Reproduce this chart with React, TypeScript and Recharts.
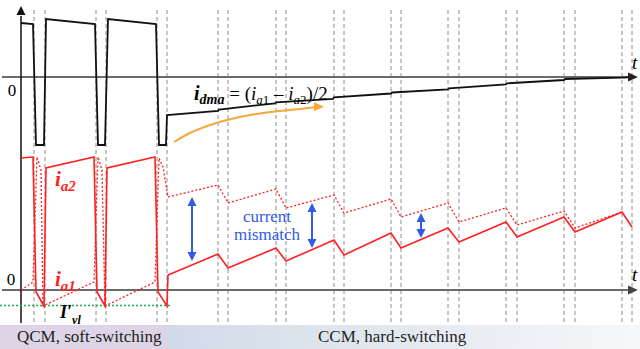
import { ComposedChart, Line, ReferenceDot, ReferenceLine, XAxis, YAxis } from "recharts";

// time base (arbitrary units), t = 0 at the vertical axis
const tIdma = [0, 1.2, 1.5, 2.3, 2.5, 7.4, 7.7, 8.4, 8.7, 13.5, 13.8, 14.5, 14.6, 19.7, 19.8, 25.4, 25.5, 31.2, 31.3, 37.0, 37.1, 42.7, 42.8, 48.5, 48.6, 54.3, 54.4, 60.1, 61.4];
const vIdma = [5.4, 5.3, -6.8, -6.8, 5.8, 5.3, -6.8, -6.8, 5.8, 5.3, -6.8, -6.8, -3.8, -3.4, -3.25, -2.63, -2.53, -2.2, -2.03, -1.65, -1.55, -1.23, -1.13, -0.73, -0.63, -0.3, -0.2, -0.07, 0];

const tIa2 = [0, 1.2, 1.5, 2.3, 2.5, 7.3, 7.6, 8.4, 8.6, 13.4, 13.7, 14.6, 14.7, 19.7, 20.7, 25.5, 26.5, 31.3, 32.3, 37.0, 38.0, 42.7, 43.8, 48.5, 49.6, 54.3, 55.4, 60.1, 61.1];
const vIa2 = [13.2, 13.3, -0.2, -1.6, 12.2, 13.3, -0.2, -1.6, 12.2, 13.3, -0.2, -1.6, 1.5, 3.6, 2.2, 4.2, 2.9, 5.0, 3.5, 5.7, 4.2, 6.2, 4.8, 6.8, 5.3, 7.3, 5.8, 7.8, 6.3];

const tIa1 = [0, 1.2, 1.6, 2.0, 2.2, 7.3, 7.7, 8.1, 8.4, 13.4, 13.8, 14.2, 14.7, 19.7, 20.7, 25.5, 26.5, 31.3, 32.3, 37.0, 38.0, 42.7, 43.8, 48.5, 49.6, 54.3, 55.4, 60.1];
const vIa1 = [0, 0.8, 13.3, 12.0, -1.6, 0.8, 13.3, 12.0, -1.6, 0.8, 13.2, 12.3, 9.3, 10.5, 8.7, 10.1, 8.2, 9.5, 7.7, 9.1, 7.3, 8.7, 6.8, 8.2, 6.5, 7.9, 6.2, 7.8];

// switching instants (pairs of dashed markers)
const switchTimes = [1.3, 2.4, 7.5, 8.5, 13.6, 14.6, 19.7, 20.7, 25.5, 26.5, 31.3, 32.3, 37.0, 38.0, 42.7, 43.8, 48.5, 49.6, 54.3, 55.4, 60.1, 61.1];

const tTrend = [15.3, 16.9, 18.9, 21.9, 24.9, 27.9, 29.6];
const vTrend = [-6.5, -5.6, -4.8, -4.0, -3.5, -3.2, -3.0];

// current mismatch markers: [t, upper, lower]
const mismatch = [
  [17.1, 9.3, 2.9],
  [29.1, 8.7, 4.2],
  [40.0, 7.7, 5.2],
];

const ivl = -1.55;

const zip = (ts: number[], vs: number[]) => ts.map((t, i) => ({ t, v: vs[i] }));

const SERIF = "'Liberation Serif', 'Times New Roman', serif";
const RED = "#ff1f1f";
const BLUE = "#2f5be6";

const up = (color: string) => (p: any) => (
  <path d={`M${p.cx},${p.cy} L${p.cx - 4.5},${p.cy + 9} L${p.cx + 4.5},${p.cy + 9} Z`} fill={color} />
);
const down = (color: string) => (p: any) => (
  <path d={`M${p.cx},${p.cy} L${p.cx - 4.5},${p.cy - 9} L${p.cx + 4.5},${p.cy - 9} Z`} fill={color} />
);
const right = (color: string) => (p: any) => (
  <path d={`M${p.cx},${p.cy} L${p.cx - 10},${p.cy - 4.5} L${p.cx - 10},${p.cy + 4.5} Z`} fill={color} />
);

const note = (key: string, t: number, v: number, axis: string, content: any) => (
  <ReferenceDot
    key={key}
    x={t}
    y={v}
    yAxisId={axis}
    r={0}
    ifOverflow="visible"
    shape={(p: any) => (
      <text x={p.cx} y={p.cy} fontFamily={SERIF}>
        {content}
      </text>
    )}
  />
);

const wave = (key: string, pts: { t: number; v: number }[], axis: string, stroke: string, width: number, dash?: string, curve = "linear") => (
  <Line
    key={key}
    data={pts}
    dataKey="v"
    yAxisId={axis}
    type={curve as any}
    stroke={stroke}
    strokeWidth={width}
    strokeDasharray={dash}
    dot={false}
    activeDot={false}
    isAnimationActive={false}
  />
);

const band = { position: "absolute" as const, top: 328, fontFamily: SERIF, fontSize: 17, lineHeight: "18px", color: "#222" };

export default function App() {
  return (
    <div style={{ position: "absolute", left: 0, top: 0, width: 640, height: 349, background: "#fff" }}>
      <div style={{ position: "absolute", left: 0, top: 325, width: 168, height: 24, background: "#ddd5e5" }} />
      <div
        style={{
          position: "absolute",
          left: 168,
          top: 325,
          width: 472,
          height: 24,
          background: "linear-gradient(90deg, #d1dbe8, #f6f7f9)",
        }}
      />
      <div style={{ ...band, left: 17 }}>QCM, soft-switching</div>
      <div style={{ ...band, left: 318 }}>CCM, hard-switching</div>
      <div style={{ position: "absolute", left: 0, top: 0 }}>
        <ComposedChart width={640} height={349} margin={{ top: 0, right: 0, bottom: 0, left: 0 }}>
          <XAxis type="number" dataKey="t" domain={[-2.1, 61.9]} hide allowDataOverflow />
          <YAxis yAxisId="top" type="number" domain={[-27.2, 7.7]} hide allowDataOverflow />
          <YAxis yAxisId="bot" type="number" domain={[-5.9, 29]} hide allowDataOverflow />

          {switchTimes.map((t) => (
            <ReferenceLine
              key={`sw${t}`}
              yAxisId="bot"
              segment={[{ x: t, y: 28 }, { x: t, y: -3.2 }]}
              stroke="#8c8c8c"
              strokeDasharray="4 3"
              strokeWidth={1}
            />
          ))}

          {/* axes */}
          <ReferenceLine yAxisId="top" segment={[{ x: -1.9, y: 0 }, { x: 61.0, y: 0 }]} stroke="#6b6b6b" strokeWidth={2} />
          <ReferenceLine yAxisId="bot" segment={[{ x: -1.9, y: 0 }, { x: 61.0, y: 0 }]} stroke="#6b6b6b" strokeWidth={2} />
          <ReferenceLine yAxisId="bot" segment={[{ x: 0, y: 27.4 }, { x: 0, y: -3.3 }]} stroke="#111" strokeWidth={1.5} />
          <ReferenceDot yAxisId="top" x={61.7} y={0} r={0} ifOverflow="visible" shape={right("#222")} />
          <ReferenceDot yAxisId="bot" x={61.7} y={0} r={0} ifOverflow="visible" shape={right("#444")} />
          <ReferenceDot yAxisId="bot" x={0} y={28.4} r={0} ifOverflow="visible" shape={up("#111")} />

          <ReferenceLine
            yAxisId="bot"
            segment={[{ x: -2.1, y: ivl }, { x: 14.9, y: ivl }]}
            stroke="#1fa84a"
            strokeDasharray="2 2"
            strokeWidth={1.5}
          />

          {wave("ia1", zip(tIa1, vIa1), "bot", RED, 1.3, "2 2")}
          {wave("ia2", zip(tIa2, vIa2), "bot", RED, 1.6)}
          {wave("idma", zip(tIdma, vIdma), "top", "#111", 1.8)}
          {wave("trend", zip(tTrend, vTrend), "top", "#f6a83c", 2, undefined, "monotone")}
          <ReferenceDot yAxisId="top" x={30.3} y={-2.97} r={0} ifOverflow="visible" shape={right("#f6a83c")} />

          {mismatch.map(([t, hi, lo]) => [
            <ReferenceLine key={`m${t}`} yAxisId="bot" segment={[{ x: t, y: hi - 0.6 }, { x: t, y: lo + 0.6 }]} stroke={BLUE} strokeWidth={2} />,
            <ReferenceDot key={`mu${t}`} yAxisId="bot" x={t} y={hi} r={0} ifOverflow="visible" shape={up(BLUE)} />,
            <ReferenceDot key={`md${t}`} yAxisId="bot" x={t} y={lo} r={0} ifOverflow="visible" shape={down(BLUE)} />,
          ])}

          {note("z1", -0.9, -1.9, "top", <tspan fontSize={17} textAnchor="middle">0</tspan>)}
          {note("z2", -1.0, 0.5, "bot", <tspan fontSize={17} textAnchor="middle">0</tspan>)}
          {note("t1", 61.1, 0.8, "top", <tspan fontSize={19} fontStyle="italic">t</tspan>)}
          {note("t2", 61.1, 0.9, "bot", <tspan fontSize={19} fontStyle="italic">t</tspan>)}
          {note(
            "dma",
            17.3,
            -2.3,
            "top",
            <>
              <tspan fontSize={20} fontWeight="bold" fontStyle="italic">i</tspan>
              <tspan fontSize={14} fontWeight="bold" fontStyle="italic" dy={4}>dma</tspan>
              <tspan fontSize={19} dy={-4}> = (</tspan>
              <tspan fontSize={19} fontStyle="italic">i</tspan>
              <tspan fontSize={13} fontStyle="italic" dy={4}>a</tspan>
              <tspan fontSize={13}>1</tspan>
              <tspan fontSize={19} dy={-4}> – </tspan>
              <tspan fontSize={19} fontStyle="italic">i</tspan>
              <tspan fontSize={13} fontStyle="italic" dy={4}>a</tspan>
              <tspan fontSize={13}>2</tspan>
              <tspan fontSize={19} dy={-4}>)/2</tspan>
            </>
          )}
          {note(
            "ia2",
            3.4,
            10.4,
            "bot",
            <>
              <tspan fontSize={21} fontWeight="bold" fontStyle="italic" fill={RED}>i</tspan>
              <tspan fontSize={15} fontWeight="bold" fontStyle="italic" fill={RED} dy={5}>a2</tspan>
            </>
          )}
          {note(
            "ia1",
            3.4,
            0.4,
            "bot",
            <>
              <tspan fontSize={21} fontWeight="bold" fontStyle="italic" fill={RED}>i</tspan>
              <tspan fontSize={15} fontWeight="bold" fontStyle="italic" fill={RED} dy={5}>a1</tspan>
            </>
          )}
          {note(
            "ivl",
            3.9,
            -2.75,
            "bot",
            <>
              <tspan fontSize={18} fontWeight="bold" fontStyle="italic">I′</tspan>
              <tspan fontSize={12} fontWeight="bold" fontStyle="italic" dy={6}>vl</tspan>
            </>
          )}
          {note("cm1", 24.6, 6.8, "bot", <tspan fontSize={17} fill={BLUE} textAnchor="middle">current</tspan>)}
          {note("cm2", 24.6, 5.0, "bot", <tspan fontSize={17} fill={BLUE} textAnchor="middle">mismatch</tspan>)}
        </ComposedChart>
      </div>
    </div>
  );
}
